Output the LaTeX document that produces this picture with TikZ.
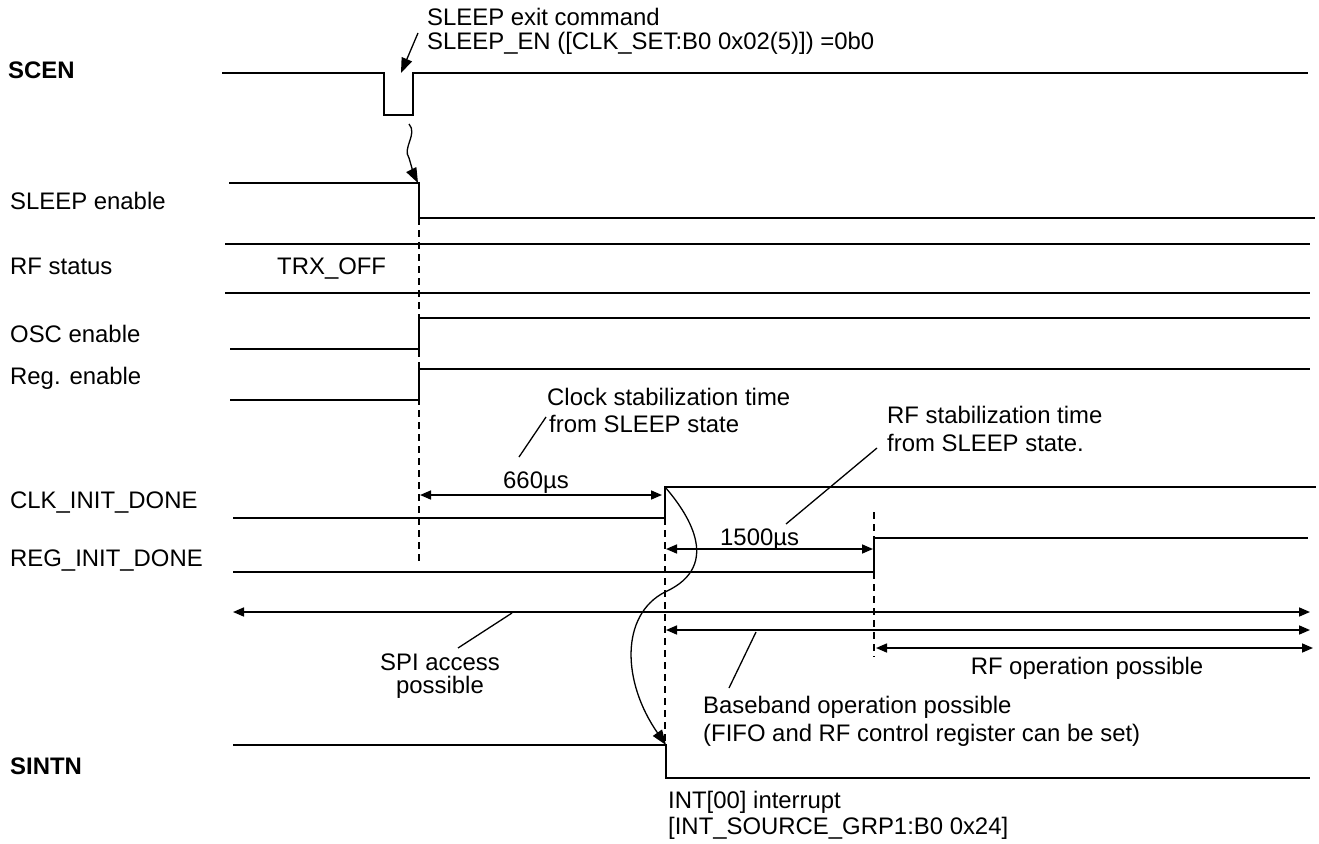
\documentclass[tikz,border=0pt]{standalone}
\usepackage{fontspec}
\setmainfont{Liberation Sans}
\usetikzlibrary{arrows.meta}
\newcommand{\lbfont}{\fontsize{23.9}{27}\selectfont}
\begin{document}
\begin{tikzpicture}[x=1pt,y=-1pt,
  sig/.style={line width=1.6pt},
  dsh/.style={line width=1.3pt, dash pattern=on 7pt off 5pt},
  thin/.style={line width=1.3pt},
  lbl/.style={anchor=base west, inner sep=0pt, font=\lbfont},
  clbl/.style={anchor=base, inner sep=0pt, font=\lbfont},
  blbl/.style={anchor=base west, inner sep=0pt, font=\lbfont\bfseries},
  dimarr/.style={line width=1.6pt, {Triangle[length=11pt,width=9pt]}-{Triangle[length=11pt,width=9pt]}},
  bigtip/.style={-{Triangle[length=15pt,width=11pt]}}
]
\useasboundingbox (0,0) rectangle (1319,843);

% ---------- labels ----------
\node[blbl] (lscen) at (8,78) {SCEN};
\node[lbl] (lsleep) at (10,209) {SLEEP enable};
\node[lbl] (lrf) at (10,274) {RF status};
\node[lbl] (ltrx) at (277,274) {TRX\_OFF};
\node[lbl] (losc) at (10,342) {OSC enable};
\node[lbl] (lreg) at (10,384) {Reg. enable};
\node[lbl] (lclk) at (10,508) {CLK\_INIT\_DONE};
\node[lbl] (lreginit) at (10,566) {REG\_INIT\_DONE};
\node[blbl] (lsintn) at (10,774) {SINTN};

% ---------- SCEN ----------
\coordinate (s0) at (222,73);
\coordinate (s1) at (384,73);
\coordinate (s2) at (384,115);
\coordinate (s3) at (413,115);
\coordinate (s4) at (413,73);
\coordinate (s5) at (1308,73);
\draw[sig] (s0) -- (s1) -- (s2) -- (s3) -- (s4) -- (s5);

\node[lbl] (cmd1) at (427,26) {SLEEP exit command};
\node[lbl] (cmd2) at (427,50) {SLEEP\_EN ([CLK\_SET:B0 0x02(5)]) =0b0};
\coordinate (cmdl) at (418,33);
\coordinate (cmdt) at (401,73);
\draw[thin,bigtip] (cmdl) -- (cmdt);

% wavy arrow SCEN -> SLEEP enable
\coordinate (w0) at (409,124);
\coordinate (w1) at (409,158);
\coordinate (w2) at (418,183);
\draw[thin,bigtip] (w0) .. controls (418,134) and (402,148) .. (w1) .. controls (412,168) and (414,175) .. (w2);

% ---------- SLEEP enable ----------
\coordinate (e0) at (229,183);
\coordinate (e1) at (419,183);
\coordinate (e2) at (419,218);
\coordinate (e3) at (1315,218);
\draw[sig] (e0) -- (e1) -- (e2) -- (e3);

% ---------- RF status ----------
\coordinate (r0) at (225,244);
\coordinate (r1) at (1310,244);
\coordinate (r2) at (225,293);
\coordinate (r3) at (1310,293);
\draw[sig] (r0) -- (r1);
\draw[sig] (r2) -- (r3);

% ---------- OSC enable ----------
\coordinate (o0) at (230,349);
\coordinate (o1) at (419,349);
\coordinate (o2) at (419,318);
\coordinate (o3) at (1310,318);
\draw[sig] (o0) -- (o1) -- (o2) -- (o3);

% ---------- Reg. enable ----------
\coordinate (g0) at (230,400);
\coordinate (g1) at (419,400);
\coordinate (g2) at (419,369);
\coordinate (g3) at (1310,369);
\draw[sig] (g0) -- (g1) -- (g2) -- (g3);

% dashed at x=419
\coordinate (d1a) at (419,218);
\coordinate (d1b) at (419,562);
\draw[dsh] (d1a) -- (d1b);

% ---------- CLK_INIT_DONE ----------
\coordinate (c0) at (233,518);
\coordinate (c1) at (665,518);
\coordinate (c2) at (665,487);
\coordinate (c3) at (1316,487);
\draw[sig] (c0) -- (c1) -- (c2) -- (c3);

\coordinate (t660a) at (420,495);
\coordinate (t660b) at (662,495);
\draw[dimarr] (t660a) -- (t660b);
\node[clbl] (l660) at (536,488) {660µs};

\node[lbl] (clk1) at (547,405) {Clock stabilization time};
\node[lbl] (clk2) at (549,432) {from SLEEP state};
\coordinate (clka) at (519,457);
\coordinate (clkb) at (546,417);
\draw[thin] (clka) -- (clkb);

% dashed at x=665
\coordinate (d2a) at (665,518);
\coordinate (d2b) at (665,745);
\draw[dsh] (d2a) -- (d2b);

% ---------- REG_INIT_DONE ----------
\coordinate (q0) at (233,572);
\coordinate (q1) at (874,572);
\coordinate (q2) at (874,538);
\coordinate (q3) at (1308,538);
\draw[sig] (q0) -- (q1) -- (q2) -- (q3);

\coordinate (t15a) at (666,549);
\coordinate (t15b) at (873,549);
\draw[dimarr] (t15a) -- (t15b);
\node[lbl] (l1500) at (720,545) {1500µs};

\node[lbl] (rfs1) at (887,423) {RF stabilization time};
\node[lbl] (rfs2) at (887,451) {from SLEEP state.};
\coordinate (rfa) at (786,524);
\coordinate (rfb) at (877,448);
\draw[thin] (rfa) -- (rfb);

% dashed at x=874
\coordinate (d3a) at (874,512);
\coordinate (d3b) at (874,657);
\draw[dsh] (d3a) -- (d3b);

% ---------- availability arrows ----------
\coordinate (spia) at (233,612);
\coordinate (spib) at (1310,612);
\draw[dimarr] (spia) -- (spib);
\coordinate (bba) at (666,630);
\coordinate (bbb) at (1310,630);
\draw[dimarr] (bba) -- (bbb);
\coordinate (rfoa) at (876,648);
\coordinate (rfob) at (1313,648);
\draw[dimarr] (rfoa) -- (rfob);

\node[clbl] (spi1) at (440,670) {SPI access};
\node[clbl] (spi2) at (440,693) {possible};
\coordinate (spl1) at (512,613);
\coordinate (spl2) at (458,648);
\draw[thin] (spl1) -- (spl2);

\node[lbl] (bb1) at (703,713) {Baseband operation possible};
\node[lbl] (bb2) at (703,741) {(FIFO and RF control register can be set)};
\coordinate (bbl1) at (756,632);
\coordinate (bbl2) at (729,688);
\draw[thin] (bbl1) -- (bbl2);

\node[clbl] (rfop) at (1087,674) {RF operation possible};

% ---------- SINTN ----------
\coordinate (n0) at (233,745);
\coordinate (n1) at (666,745);
\coordinate (n2) at (666,778);
\coordinate (n3) at (1310,778);
\draw[sig] (n0) -- (n1) -- (n2) -- (n3);

\node[lbl] (int1) at (668,808) {INT[00] interrupt};
\node[lbl] (int2) at (668,834) {[INT\_SOURCE\_GRP1:B0 0x24]};

% curved arrow CLK_INIT_DONE -> SINTN
\coordinate (cv0) at (665,487);
\coordinate (cv1) at (665,592);
\coordinate (cv2) at (666,745);
\draw[thin,bigtip] (cv0) .. controls (685,510) and (725,565) .. (cv1)
  .. controls (620,615) and (622,682) .. (cv2);

\end{tikzpicture}
\end{document}
